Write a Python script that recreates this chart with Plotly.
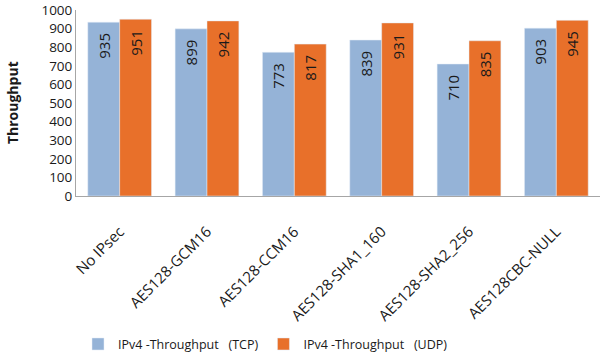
import plotly.graph_objects as go

categories = ["No IPsec", "AES128-GCM16", "AES128-CCM16", "AES128-SHA1_160", "AES128-SHA2_256", "AES128CBC-NULL"]
tcp = [935, 899, 773, 839, 710, 903]
udp = [951, 942, 817, 931, 835, 945]
tick_vals = [0, 100, 200, 300, 400, 500, 600, 700, 800, 900, 1000]
tcp_name = "IPv4\u00a0-Throughput\u00a0\u00a0\u00a0(TCP)"
udp_name = "IPv4\u00a0-Throughput\u00a0\u00a0\u00a0(UDP)"

font = "Open Sans"
pad = "\u00a0\u00a0"
fig = go.Figure()
fig.add_trace(go.Bar(x=categories, y=tcp, name=tcp_name, marker_color="#95B3D7",
                     text=[str(v) + pad for v in tcp], textposition="inside", insidetextanchor="end",
                     textangle=-90, textfont=dict(color="#1a1a1a", size=15, family=font)))
fig.add_trace(go.Bar(x=categories, y=udp, name=udp_name, marker_color="#E8702A",
                     text=[str(v) + pad for v in udp], textposition="inside", insidetextanchor="end",
                     textangle=-90, textfont=dict(color="#1a1a1a", size=15, family=font)))

fig.add_annotation(text="<b>Throughput</b>", xref="paper", yref="paper", x=-0.122, y=0.5,
                   xanchor="center", yanchor="middle", textangle=-90, showarrow=False,
                   font=dict(size=14, family=font, color="#1a1a1a"))

fig.update_layout(
    width=600, height=355,
    margin=dict(l=76, r=0, t=10, b=159),
    plot_bgcolor="white", paper_bgcolor="white",
    barmode="group", bargap=0.27, bargroupgap=0,
    font=dict(family=font, size=14, color="#1a1a1a"),
    showlegend=True,
    legend=dict(orientation="h", xref="container", x=0.13, xanchor="left",
                yref="container", y=0.03, yanchor="middle",
                font=dict(size=12.5), itemwidth=30),
    yaxis=dict(range=[0, 1000.5], tickvals=tick_vals, ticktext=[str(v) for v in tick_vals],
               showgrid=False, showline=True, linecolor="#a6a6a6", ticklabeloverflow="allow",
               ticks="", zeroline=False, automargin=False, tickfont=dict(size=13.5)),
    xaxis=dict(tickangle=-45, showline=True, linecolor="#a6a6a6", ticks="", showgrid=False,
               automargin=False, tickfont=dict(size=15), ticklabelstandoff=20,
               ticklabeloverflow="allow"),
)
fig.write_html("out.html", config={"displayModeBar": False},
               post_script="document.body.style.margin='0';")
